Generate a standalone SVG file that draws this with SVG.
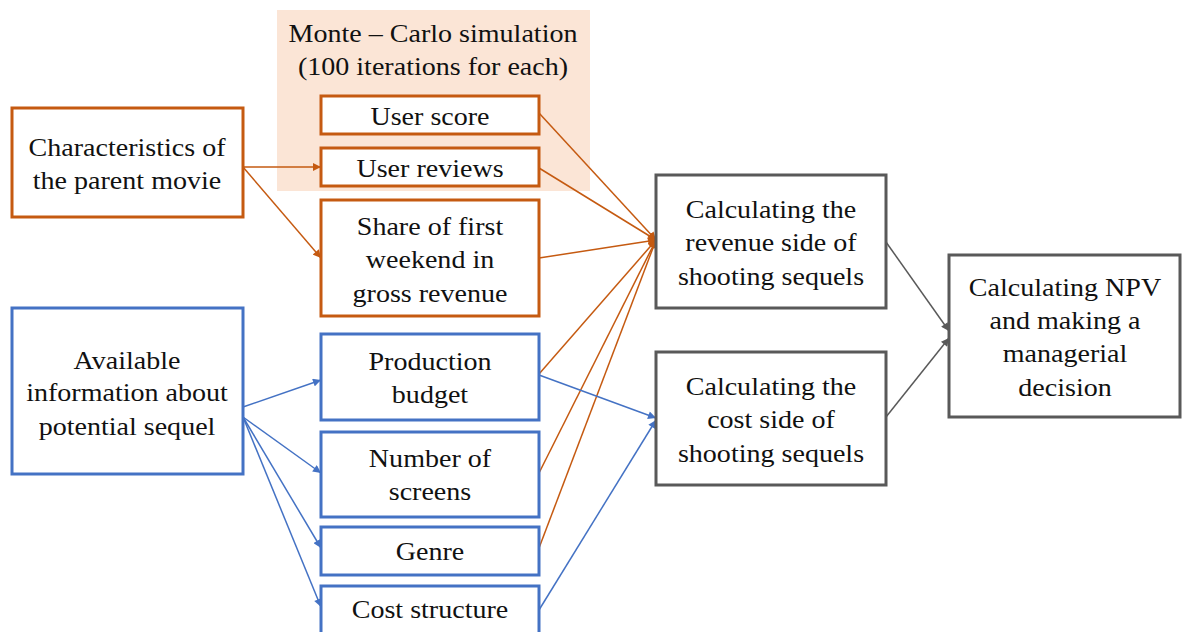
<svg xmlns="http://www.w3.org/2000/svg" width="1183" height="632" viewBox="0 0 1183 632">
<defs>
<style>
.o{fill:#fff;stroke:#c55a11;stroke-width:3}
.b{fill:#fff;stroke:#4472c4;stroke-width:3}
.g{fill:#fff;stroke:#595959;stroke-width:3}
text{font-family:"Liberation Serif","Times New Roman",serif;font-size:25.5px;fill:#111;text-anchor:middle}
.lo{stroke:#c55a11;stroke-width:1.5;fill:none;marker-end:url(#ao)}
.lb{stroke:#4472c4;stroke-width:1.5;fill:none;marker-end:url(#ab)}
.lg{stroke:#595959;stroke-width:1.5;fill:none;marker-end:url(#ag)}
</style>
<marker id="ao" viewBox="0 0 10 10" refX="10" refY="5" markerWidth="9" markerHeight="8" markerUnits="userSpaceOnUse" orient="auto"><path d="M0,0L10,5L0,10z" fill="#c55a11"/></marker>
<marker id="ab" viewBox="0 0 10 10" refX="10" refY="5" markerWidth="9" markerHeight="8" markerUnits="userSpaceOnUse" orient="auto"><path d="M0,0L10,5L0,10z" fill="#4472c4"/></marker>
<marker id="ag" viewBox="0 0 10 10" refX="10" refY="5" markerWidth="9" markerHeight="8" markerUnits="userSpaceOnUse" orient="auto"><path d="M0,0L10,5L0,10z" fill="#595959"/></marker>
</defs>
<rect width="1183" height="632" fill="#fff"/>
<g id="montecarlo">
<rect x="277" y="10" width="313" height="181" fill="#fbe5d6"/>
<g transform="translate(433 0) scale(1.1 1)"><text x="0" y="42">Monte – Carlo simulation</text><text x="0" y="75">(100 iterations for each)</text></g>
</g>
<g id="connectors">
<path class="lo" d="M243,167L321,167"/>
<path class="lo" d="M243,167L321,258"/>
<path class="lo" d="M539,113L656,240"/>
<path class="lo" d="M539,168L656,240"/>
<path class="lo" d="M539,258L656,240"/>
<path class="lo" d="M539,374L656,240"/>
<path class="lo" d="M539,473L656,240"/>
<path class="lo" d="M539,548L656,240"/>
<path class="lb" d="M243,407L321,380"/>
<path class="lb" d="M243,417L321,473"/>
<path class="lb" d="M243,417L321,548"/>
<path class="lb" d="M243,417L321,607"/>
<path class="lb" d="M539,375L656,418"/>
<path class="lb" d="M539,610L656,420"/>
<path class="lg" d="M886,242L949,331"/>
<path class="lg" d="M886,417L949,338"/>
</g>
<g id="characteristics"><rect class="o" x="12" y="108" width="231" height="109"/>
<g transform="translate(127 0) scale(1.1 1)"><text x="0" y="156">Characteristics of</text><text x="0" y="189">the parent movie</text></g></g>
<g id="userscore"><rect class="o" x="321" y="96" width="218" height="38"/>
<g transform="translate(430 0) scale(1.1 1)"><text x="0" y="125">User score</text></g></g>
<g id="userreviews"><rect class="o" x="321" y="148" width="218" height="38"/>
<g transform="translate(430 0) scale(1.1 1)"><text x="0" y="177">User reviews</text></g></g>
<g id="share"><rect class="o" x="321" y="200" width="218" height="116"/>
<g transform="translate(430 0) scale(1.1 1)"><text x="0" y="235">Share of first</text><text x="0" y="268">weekend in</text><text x="0" y="302">gross revenue</text></g></g>
<g id="available"><rect class="b" x="12" y="308" width="231" height="166"/>
<g transform="translate(127 0) scale(1.1 1)"><text x="0" y="369">Available</text><text x="0" y="401">information about</text><text x="0" y="435">potential sequel</text></g></g>
<g id="budget"><rect class="b" x="321" y="334" width="218" height="86"/>
<g transform="translate(430 0) scale(1.1 1)"><text x="0" y="370">Production</text><text x="0" y="403">budget</text></g></g>
<g id="screens"><rect class="b" x="321" y="432" width="218" height="85"/>
<g transform="translate(430 0) scale(1.1 1)"><text x="0" y="467">Number of</text><text x="0" y="500">screens</text></g></g>
<g id="genre"><rect class="b" x="321" y="527" width="218" height="48"/>
<g transform="translate(430 0) scale(1.1 1)"><text x="0" y="560">Genre</text></g></g>
<g id="coststructure"><rect class="b" x="321" y="586" width="218" height="60"/>
<g transform="translate(430 0) scale(1.1 1)"><text x="0" y="618">Cost structure</text></g></g>
<g id="revenue"><rect class="g" x="656" y="175" width="230" height="133"/>
<g transform="translate(771 0) scale(1.1 1)"><text x="0" y="218">Calculating the</text><text x="0" y="251">revenue side of</text><text x="0" y="285">shooting sequels</text></g></g>
<g id="cost"><rect class="g" x="656" y="352" width="230" height="133"/>
<g transform="translate(771 0) scale(1.1 1)"><text x="0" y="395">Calculating the</text><text x="0" y="428">cost side of</text><text x="0" y="462">shooting sequels</text></g></g>
<g id="npv"><rect class="g" x="949" y="255" width="231" height="162"/>
<g transform="translate(1065 0) scale(1.1 1)"><text x="0" y="296">Calculating NPV</text><text x="0" y="329">and making a</text><text x="0" y="362">managerial</text><text x="0" y="396">decision</text></g></g>
</svg>
